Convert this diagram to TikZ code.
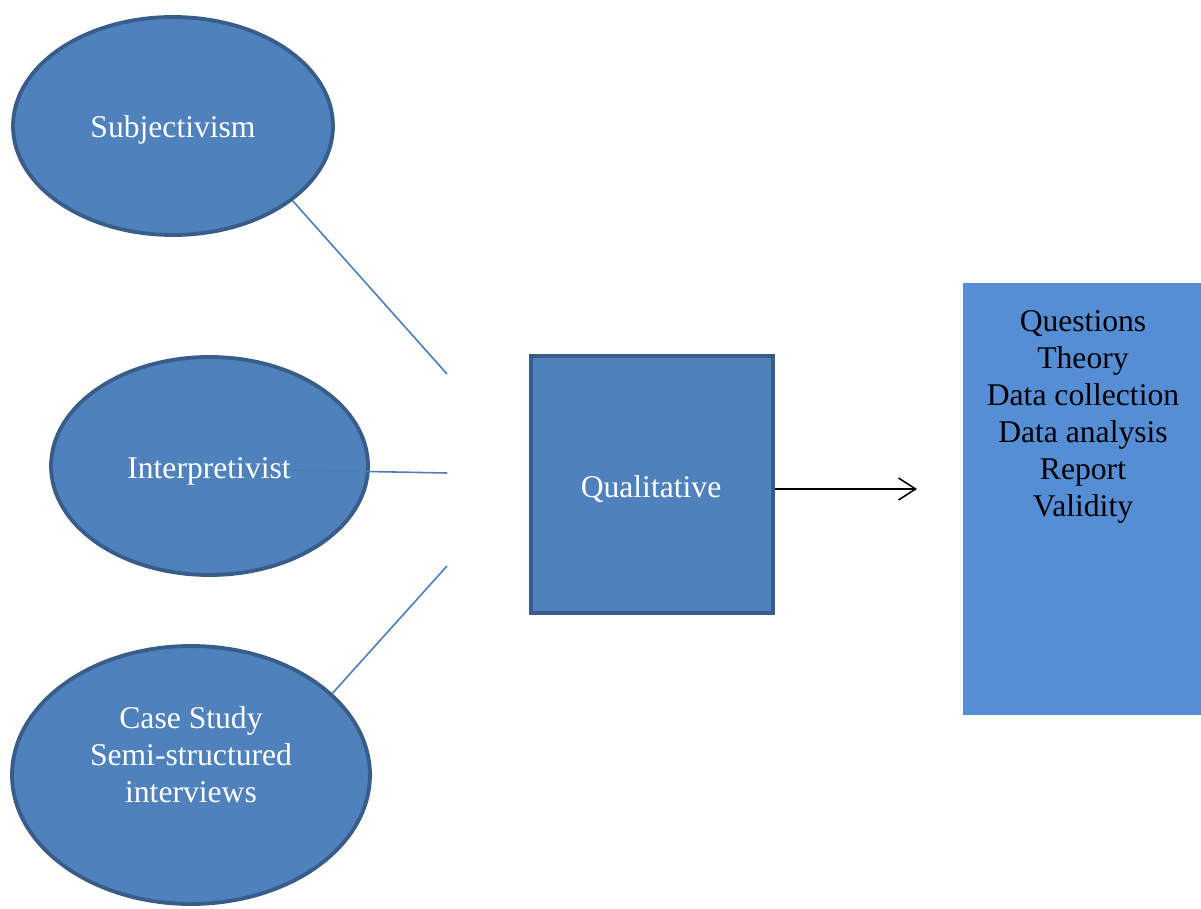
\documentclass[tikz,border=0pt]{standalone}
\usepackage{xcolor}
\usepackage{fontspec}
\setmainfont{Liberation Serif}
\usetikzlibrary{shapes.geometric,arrows.meta}

\definecolor{ovalfill}{HTML}{4F81BD}
\definecolor{ovaledge}{HTML}{385D8A}
\definecolor{listfill}{HTML}{558ED5}
\definecolor{linkblue}{HTML}{4A7EBB}

\tikzset{
    oval/.style={ellipse, draw=ovaledge, fill=ovalfill, line width=2.2pt, inner sep=0pt},
    squarebox/.style={rectangle, draw=ovaledge, fill=ovalfill, line width=2.2pt, inner sep=0pt},
    listbox/.style={rectangle, fill=listfill, inner sep=0pt, minimum width=4.76cm, minimum height=8.64cm},
    wtext/.style={text=white, font=\fontsize{18}{21}\selectfont, align=center},
    btext/.style={text=black, font=\fontsize{18}{21}\selectfont, align=center},
    link/.style={linkblue, line width=0.9pt},
}

\begin{document}
\begin{tikzpicture}[x=0.02cm, y=-0.02cm]
        \useasboundingbox (0,0) rectangle (1201,909);

        \node [oval, minimum width=6.4cm, minimum height=4.36cm] (subj) at (173,126) {};
        \node [wtext] (subjtext) at (173,130) {Subjectivism};

        \node [oval, minimum width=6.34cm, minimum height=4.36cm] (interp) at (209.5,466) {};
        \node [oval, minimum width=7.16cm, minimum height=5.16cm] (case) at (191,775) {};
        \node [wtext] (casetext) at (191,755) {Case Study\\Semi-structured\\interviews};

        \node [squarebox, minimum width=4.84cm, minimum height=5.14cm] (qual) at (652,484.5) {};
        \node [wtext] (qualtext) at (651,489) {Qualitative};

        \node [listbox] (steps) at (1082,499) {};
        \node [btext] (stepstext) at (1083,417) {Questions\\Theory\\Data collection\\Data analysis\\Report\\Validity};

        % loose ends of the three links
        \coordinate (s1) at (447,374);
        \coordinate (i1) at (447,473);
        \coordinate (c1) at (447,566);
        \coordinate (a1) at (917,489);

        \draw [link] (subj.-32) -- (s1);
        \draw [link] (interp.center) ++(78,4) -- (i1);
        \draw [link] (case.30) -- (c1);

        \node [wtext] (interptext) at (209,471) {Interpretivist};

        \draw [black, line width=0.9pt, -{Straight Barb[length=3.4mm, width=4.4mm]}] (qual.east |- a1) -- (a1);
    \end{tikzpicture}
\end{document}
